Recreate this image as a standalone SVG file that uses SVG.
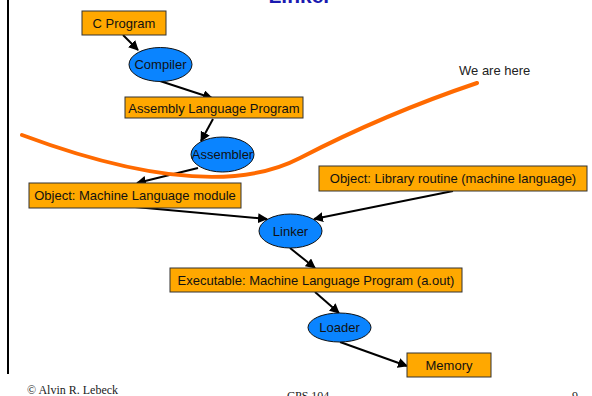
<svg xmlns="http://www.w3.org/2000/svg" width="592" height="396" viewBox="0 0 592 396">
<style>
.box{fill:#ffa800;stroke:#333;stroke-width:1}
.ell{fill:#0a84ff;stroke:#111;stroke-width:1}
.t{font-family:"Liberation Sans",Arial,sans-serif;font-size:13px;fill:#111;text-anchor:middle}
.c{stroke:#000;stroke-width:2;fill:none;marker-end:url(#ah)}
.f{font-family:"Liberation Serif","Times New Roman",serif;font-size:12px;fill:#222}
</style>
<defs>
<marker id="ah" viewBox="0 0 10 10" refX="9" refY="5" markerWidth="5" markerHeight="5" orient="auto" markerUnits="strokeWidth">
<path d="M0,0 L10,5 L0,10 z" fill="#000"/>
</marker>
</defs>
<rect width="592" height="396" fill="#fff"/>
<text x="300" y="3" font-family="Liberation Sans,Arial,sans-serif" font-size="21" font-weight="bold" fill="#1a1ab0" text-anchor="middle">Linker</text>
<line x1="8" y1="0" x2="8" y2="374" stroke="#000" stroke-width="2"/>
<g id="connectors">
<line class="c" x1="123" y1="35" x2="138" y2="50"/>
<line class="c" x1="160" y1="81" x2="212" y2="98"/>
<line class="c" x1="213" y1="119" x2="201" y2="141"/>
<line class="c" x1="198" y1="168" x2="137" y2="183"/>
<line class="c" x1="135" y1="207" x2="267" y2="219"/>
<line class="c" x1="453" y1="191" x2="314" y2="219"/>
<line class="c" x1="290" y1="248" x2="315" y2="268"/>
<line class="c" x1="315" y1="292" x2="339" y2="313"/>
<line class="c" x1="340" y1="342" x2="407" y2="366"/>
</g>
<g id="cprogram"><rect class="box" x="82" y="11" width="84" height="24"/><text class="t" x="124" y="28">C Program</text></g>
<g id="compiler"><ellipse class="ell" cx="160.5" cy="64.5" rx="31.5" ry="17"/><text class="t" x="160.5" y="69">Compiler</text></g>
<g id="assemblyprog"><rect class="box" x="125" y="97" width="178" height="21"/><text class="t" x="214" y="112.5">Assembly Language Program</text></g>
<g id="assembler"><ellipse class="ell" cx="222.5" cy="154.5" rx="31.5" ry="17.5"/><text class="t" x="222.5" y="159">Assembler</text></g>
<g id="objmodule"><rect class="box" x="29" y="183" width="212" height="25"/><text class="t" x="135" y="200">Object: Machine Language module</text></g>
<g id="library"><rect class="box" x="319" y="166" width="268" height="25"/><text class="t" x="453" y="183">Object: Library routine (machine language)</text></g>
<g id="linker"><ellipse class="ell" cx="290.5" cy="231" rx="31.5" ry="17"/><text class="t" x="290.5" y="235.5">Linker</text></g>
<g id="executable"><rect class="box" x="170" y="268" width="292" height="24"/><text class="t" x="316" y="285">Executable: Machine Language Program (a.out)</text></g>
<g id="loader"><ellipse class="ell" cx="339.5" cy="327.5" rx="31.5" ry="14.5"/><text class="t" x="339.5" y="332">Loader</text></g>
<g id="memory"><rect class="box" x="407" y="353" width="84" height="24"/><text class="t" x="449" y="370">Memory</text></g>
<path d="M22,135 Q210,205 300,158 Q385,114 477,83" fill="none" stroke="#ff6a00" stroke-width="4" stroke-linecap="round"/>
<text x="459" y="75" font-family="Liberation Sans,Arial,sans-serif" font-size="13" fill="#222">We are here</text>
<text class="f" x="27" y="394">© Alvin R. Lebeck</text>
<text class="f" x="287" y="400">CPS 104</text>
<text class="f" x="572" y="400">9</text>
</svg>
